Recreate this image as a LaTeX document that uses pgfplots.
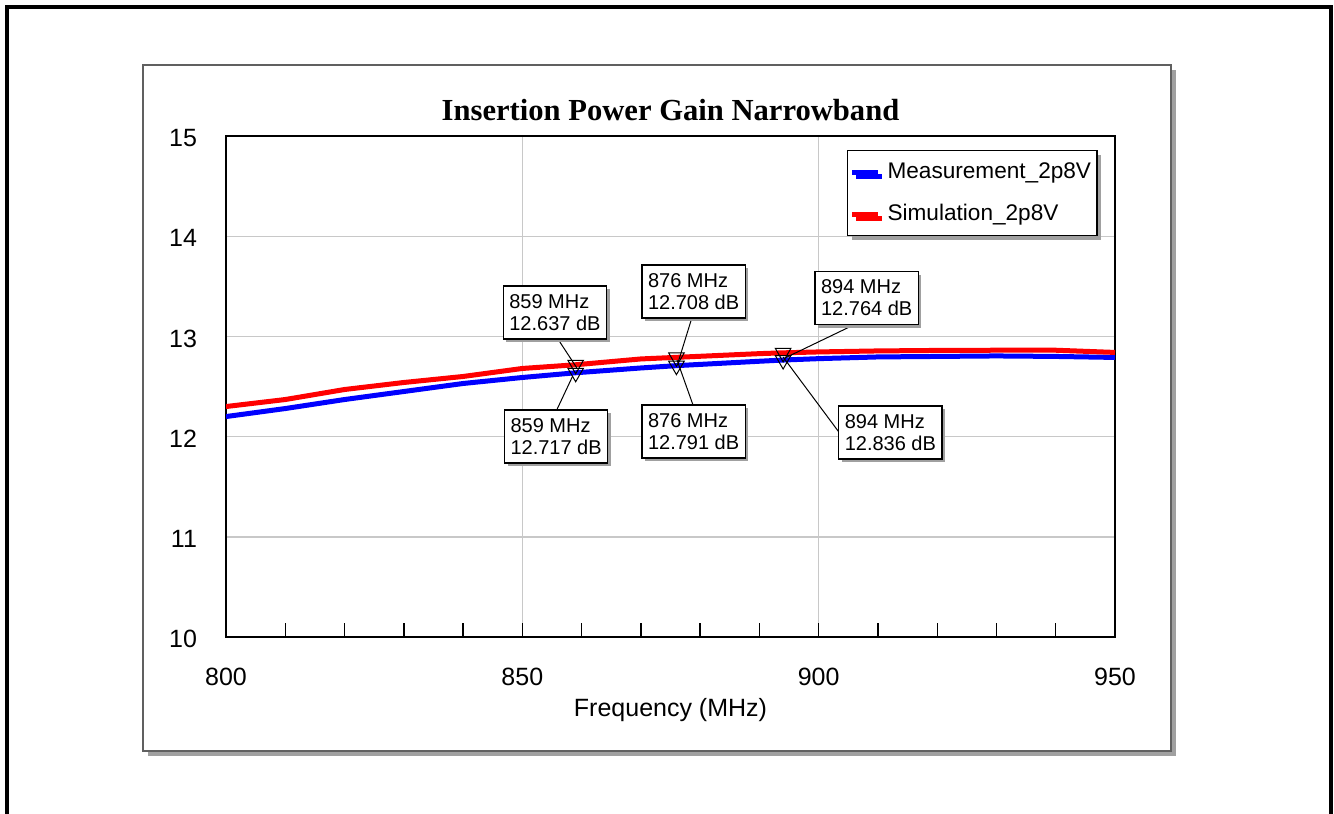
\documentclass[border=0pt]{standalone}
\usepackage{fontspec}
\setmainfont{Liberation Sans}
\newfontfamily\titlefont{Liberation Serif}
\usepackage{pgfplots}
\pgfplotsset{compat=1.18}
\usetikzlibrary{shadows}

\definecolor{gridgray}{RGB}{200,200,200}
\definecolor{shadowgray}{RGB}{160,160,160}
\definecolor{panelline}{RGB}{96,96,96}

\tikzset{
  mbox/.style={draw=black, line width=0.6pt, fill=white, align=left,
    font=\fontsize{10}{11}\selectfont, inner xsep=3pt, inner ysep=3pt,
    minimum width=51pt, minimum height=26.5pt,
    drop shadow={shadow xshift=1.5pt, shadow yshift=-1.5pt, fill=shadowgray, opacity=1}},
  leader/.style={black, line width=0.5pt}
}

\begin{document}
\begin{tikzpicture}
\useasboundingbox (0,0) rectangle (667pt,407pt);
% outer frame (bottom edge is cut off)
\draw[line width=1.75pt] (3.5pt,-5pt) -- (3.5pt,403.5pt) -- (665.5pt,403.5pt) -- (665.5pt,-5pt);
% chart panel with shadow
\fill[shadowgray] (74pt,29pt) rectangle (588pt,372pt);
\filldraw[fill=white, draw=panelline, line width=0.6pt] (71.5pt,31.5pt) rectangle (585.5pt,374.5pt);

\begin{axis}[
  at={(113pt,88.5pt)}, anchor=south west,
  width=444.5pt, height=250.5pt, scale only axis,
  xmin=800, xmax=950, ymin=10, ymax=15,
  xtick={800,850,900,950}, minor xtick={810,820,...,940},
  ytick={10,11,...,15},
  grid=major, major grid style={gridgray, line width=0.7pt},
  axis line style={black, line width=1pt},
  tick align=inside, xtick pos=bottom,
  major tick length=7pt, minor tick length=7pt,
  xtick style={black, line width=0.7pt},
  ytick style={draw=none},
  /pgf/number format/assume math mode=true,
  /pgf/number format/set thousands separator={},
  tick label style={font=\fontsize{12.5}{15}\selectfont},
  xticklabel style={anchor=base, yshift=-24pt},
  yticklabel style={anchor=east, xshift=-11pt, yshift=-1pt},
  title={\titlefont\bfseries Insertion Power Gain Narrowband},
  title style={at={(axis description cs:0.5,1)}, anchor=base, yshift=1.6pt,
    font=\fontsize{15.3}{18}\selectfont},
  xlabel={Frequency (MHz)},
  xlabel style={at={(axis description cs:0.5,0)}, anchor=base, yshift=-39.9pt,
    font=\fontsize{12.5}{15}\selectfont},
  legend style={at={(rel axis cs:0.6985,0.972)}, anchor=north west,
    draw=black, line width=0.6pt, fill=white,
    font=\fontsize{11.3}{13}\selectfont,
    inner xsep=1pt, inner ysep=4pt, row sep=7.5pt,
    drop shadow={shadow xshift=2pt, shadow yshift=-2pt, fill=shadowgray, opacity=1}},
  legend cell align=left,
  legend image code/.code={\draw[#1, line width=2.5pt] (0pt,0pt) -- (13pt,0pt); \path (14.5pt,0pt);},
]

% Measurement_2p8V
\addplot[blue, line width=2.5pt] coordinates {
  (800,12.20) (810,12.28) (820,12.37) (830,12.45) (840,12.53) (850,12.59)
  (859,12.637) (870,12.685) (876,12.708) (890,12.752) (894,12.764) (900,12.778)
  (910,12.795) (920,12.800) (930,12.805) (940,12.800) (950,12.790)
};
\addlegendentry{Measurement\_2p8V}

% Simulation_2p8V
\addplot[red, line width=2.5pt] coordinates {
  (800,12.30) (810,12.37) (820,12.47) (830,12.54) (840,12.60) (850,12.68)
  (859,12.717) (870,12.775) (876,12.791) (890,12.828) (894,12.836) (900,12.845)
  (910,12.855) (920,12.860) (930,12.862) (940,12.862) (950,12.840)
};
\addlegendentry{Simulation\_2p8V}

% marker leader lines
\draw[leader] (axis cs:856.0,12.974) -- (axis cs:859.2,12.685);
\draw[leader] (axis cs:855.8,12.265) -- (axis cs:858.5,12.605);
\draw[leader] (axis cs:878.6,13.184) -- (axis cs:876.3,12.744);
\draw[leader] (axis cs:878.8,12.315) -- (axis cs:876.1,12.764);
\draw[leader] (axis cs:906.6,13.134) -- (axis cs:894.3,12.784);
\draw[leader] (axis cs:903.4,12.046) -- (axis cs:894.0,12.794);

% markers
\addplot[only marks, mark=triangle, mark size=4.5pt, forget plot,
  mark options={rotate=180, black, line width=0.5pt}] coordinates {
  (859,12.637) (876,12.708) (894,12.764)
  (859,12.717) (876,12.791) (894,12.836)
};

% marker readouts
\node[mbox] at (axis cs:855.5,13.238) {859 MHz\\12.637 dB};
\node[mbox] at (axis cs:855.7,12.001) {859 MHz\\12.717 dB};
\node[mbox] at (axis cs:878.9,13.448) {876 MHz\\12.708 dB};
\node[mbox] at (axis cs:878.9,12.051) {876 MHz\\12.791 dB};
\node[mbox] at (axis cs:908.1,13.383) {894 MHz\\12.764 dB};
\node[mbox] at (axis cs:912.1,12.041) {894 MHz\\12.836 dB};
\end{axis}
\end{tikzpicture}
\end{document}
